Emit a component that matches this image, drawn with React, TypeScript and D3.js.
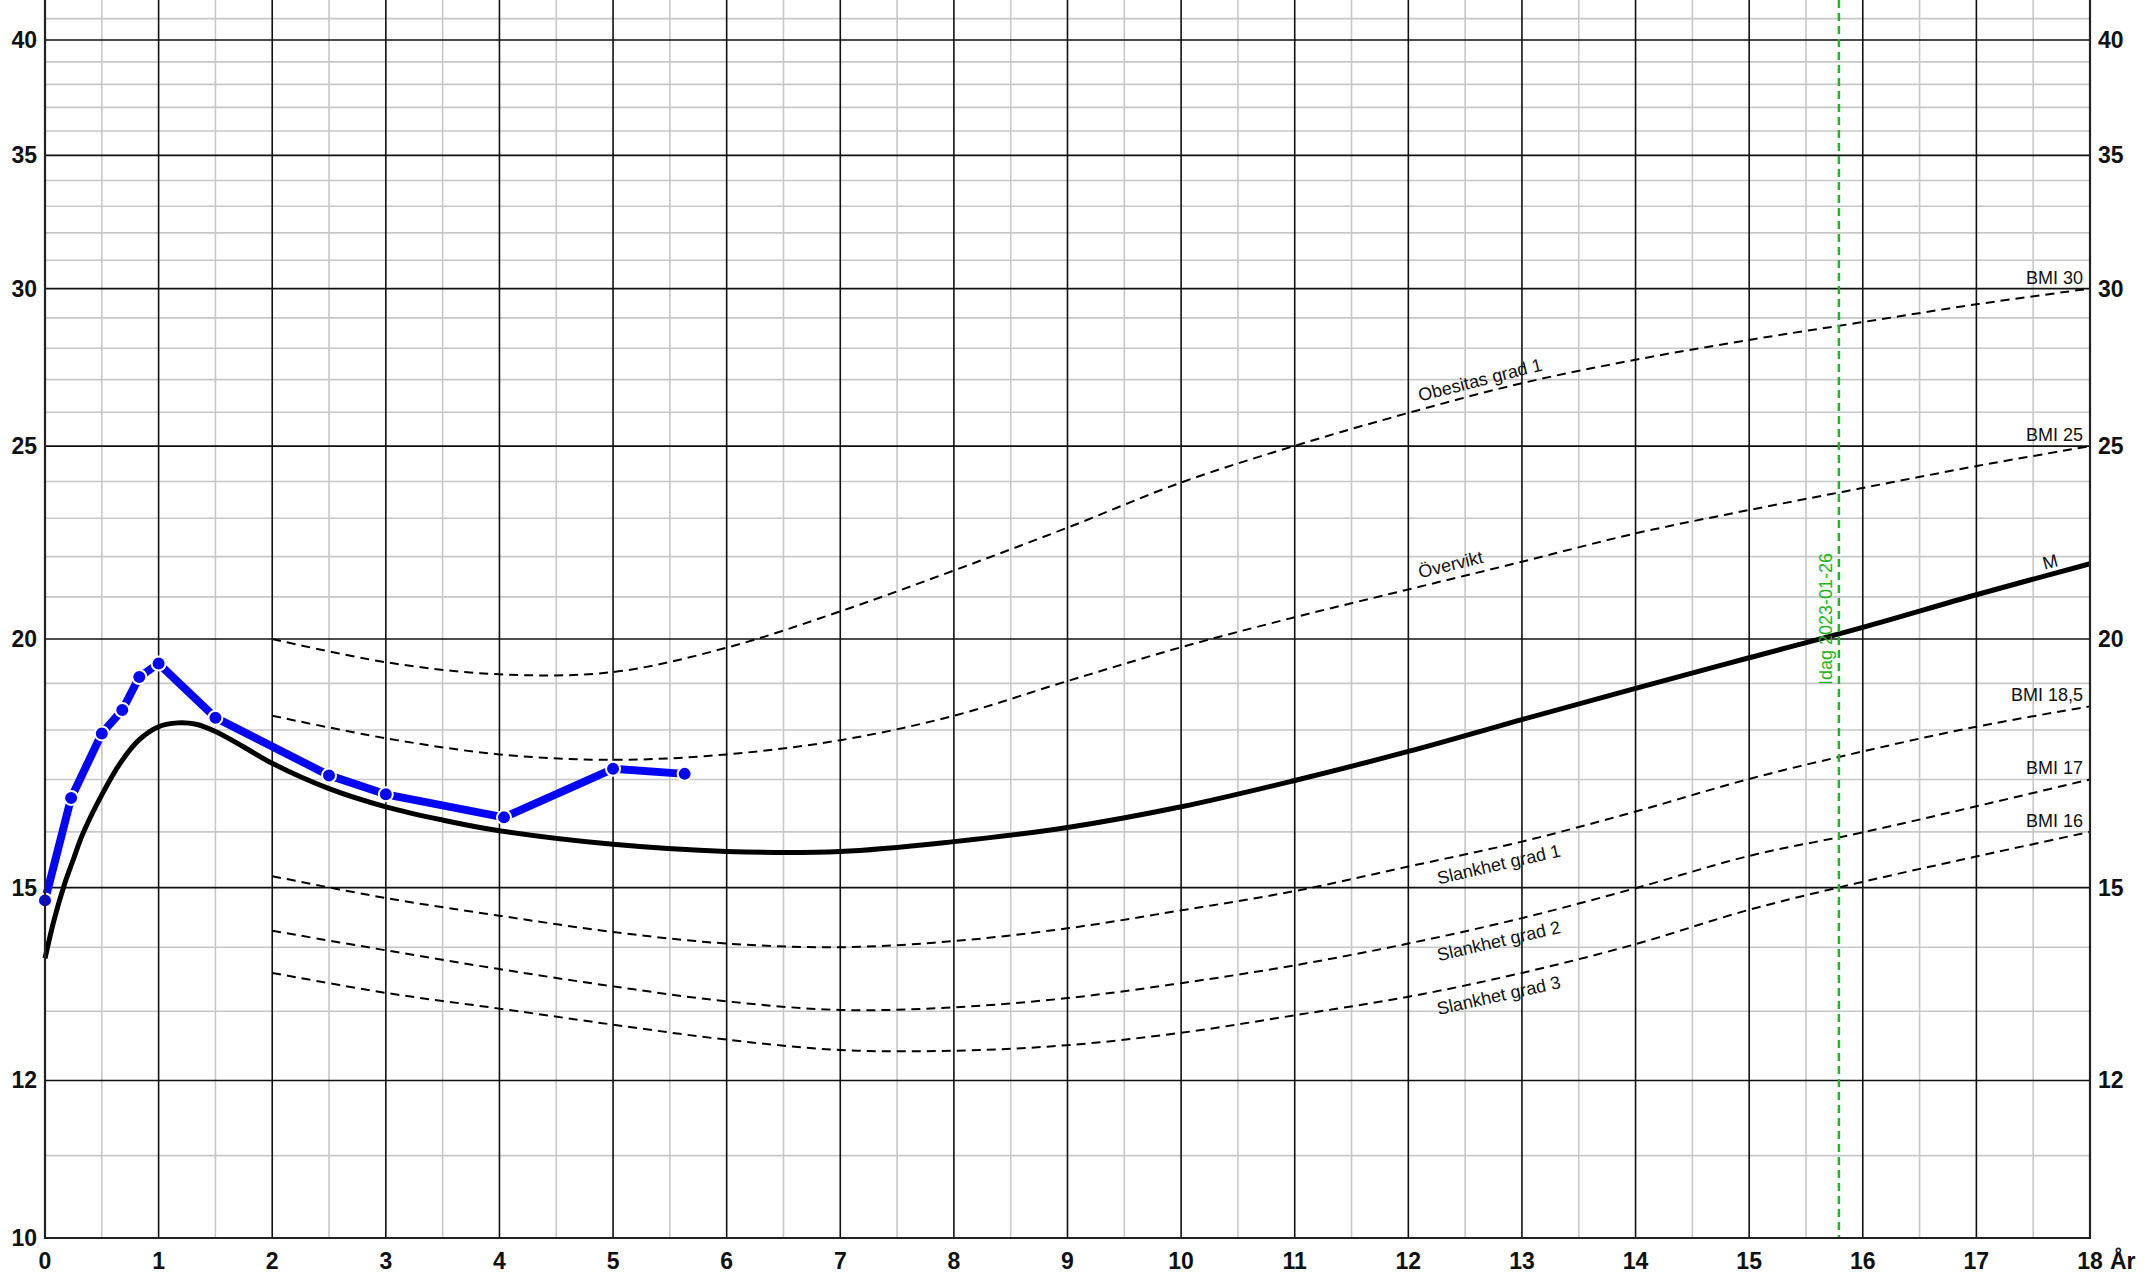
import * as d3 from "d3";

// BMI chart, age 0-18 years, log-scaled BMI axis
const yearTicks = d3.range(0, 19);
const bmiTicks = [10, 12, 15, 20, 25, 30, 35, 40];
const bmiMinor = [11, 13, 14, 16, 17, 18, 19, 21, 22, 23, 24, 26, 27, 28, 29, 31, 32, 33, 34, 36, 37, 38, 39, 41];

// median curve (M)
const medianAges = [0, 0.08, 0.17, 0.25, 0.33, 0.5, 0.67, 0.83, 1, 1.17, 1.33, 1.5, 1.75, 2, 2.5, 3, 3.5, 4, 5, 6, 7, 8, 9, 10, 11, 12, 13, 14, 15, 16, 17, 18];
const medianBmi = [13.82, 14.45, 15.05, 15.5, 15.95, 16.7, 17.35, 17.8, 18.07, 18.15, 18.12, 17.97, 17.65, 17.32, 16.82, 16.47, 16.22, 16.02, 15.77, 15.64, 15.64, 15.82, 16.08, 16.47, 16.98, 17.56, 18.22, 18.89, 19.57, 20.27, 21.05, 21.82];

// cut-off curves from age 2
const cutAges = [2, 3, 4, 5, 6, 7, 8, 9, 10, 11, 12, 13, 14, 15, 16, 17, 18];
const bmi30 = [20.0, 19.47, 19.2, 19.25, 19.8, 20.65, 21.65, 22.75, 23.97, 25.01, 25.98, 26.89, 27.63, 28.27, 28.86, 29.46, 30.0];
const bmi25 = [18.3, 17.83, 17.5, 17.39, 17.5, 17.79, 18.3, 19.05, 19.81, 20.51, 21.18, 21.87, 22.6, 23.22, 23.82, 24.43, 25.0];
const bmi185 = [15.2, 14.82, 14.52, 14.25, 14.06, 14.0, 14.1, 14.31, 14.61, 14.94, 15.37, 15.82, 16.38, 17.01, 17.56, 18.07, 18.5];
const bmi17 = [14.27, 13.95, 13.65, 13.38, 13.15, 13.02, 13.06, 13.2, 13.43, 13.71, 14.06, 14.48, 14.99, 15.56, 15.99, 16.48, 17.0];
const bmi16 = [13.59, 13.28, 13.04, 12.8, 12.58, 12.43, 12.42, 12.5, 12.68, 12.94, 13.22, 13.59, 14.05, 14.62, 15.1, 15.55, 16.0];

const cutNames = ["BMI 30", "BMI 25", "BMI 18,5", "BMI 17", "BMI 16"];
const cutLabels = ["Obesitas grad 1", "Övervikt", "Slankhet grad 1", "Slankhet grad 2", "Slankhet grad 3"];

// measurements
const childAges = [0, 0.23, 0.5, 0.68, 0.83, 1, 1.5, 2.5, 3, 4.04, 5, 5.63];
const childBmi = [14.78, 16.64, 17.93, 18.42, 19.14, 19.44, 18.26, 17.08, 16.71, 16.27, 17.21, 17.11];

const todayAge = 15.79;
const todayText = "Idag 2023-01-26";

const font = "'Liberation Sans', Arial, sans-serif";

export default function App() {
  const width = 2151;
  const height = 1274;
  const left = 45;
  const right = 2090;
  const bottom = 1238;

  const x = d3.scaleLinear([0, 18], [left, right]);
  const y = d3.scaleLog([10, 40], [bottom, 40]);

  const smooth = d3
    .line<[number, number]>()
    .x((d) => x(d[0]))
    .y((d) => y(d[1]))
    .curve(d3.curveCatmullRom.alpha(0.5));
  const straight = d3
    .line<[number, number]>()
    .x((d) => x(d[0]))
    .y((d) => y(d[1]));

  const cuts = [bmi30, bmi25, bmi185, bmi17, bmi16];

  // position + angle of a label sitting along a curve
  const along = (ages: number[], vals: number[], a: number) => {
    const f = d3.scaleLinear(ages, vals);
    const x0 = x(a), y0 = y(f(a));
    const x1 = x(a + 1), y1 = y(f(a + 1));
    return { x0, y0, angle: (Math.atan2(y1 - y0, x1 - x0) * 180) / Math.PI };
  };

  return (
    <>
      <style>{`body{margin:0}`}</style>
      <svg width={width} height={height} style={{ display: "block", background: "#fff" }}>
        {/* minor grid */}
        <g stroke="#c8c8c8" strokeWidth={1.6}>
          {d3.range(0.5, 18, 1).map((a) => (
            <line key={"vx" + a} x1={x(a)} x2={x(a)} y1={0} y2={bottom} />
          ))}
          {bmiMinor.map((v) => (
            <line key={"hy" + v} x1={left} x2={right} y1={y(v)} y2={y(v)} />
          ))}
        </g>
        {/* major grid */}
        <g stroke="#111" strokeWidth={1.6}>
          {yearTicks.slice(1, -1).map((a) => (
            <line key={"VX" + a} x1={x(a)} x2={x(a)} y1={0} y2={bottom} />
          ))}
          {bmiTicks.slice(1).map((v) => (
            <line key={"HY" + v} x1={left} x2={right} y1={y(v)} y2={y(v)} />
          ))}
        </g>

        {/* cut-off curves */}
        <g fill="none" stroke="#000" strokeWidth={2} strokeDasharray="9,6">
          {cuts.map((vals, i) => (
            <path key={i} d={smooth(cutAges.map((a, j) => [a, vals[j]]))!} />
          ))}
        </g>

        {/* cut-off names at right end */}
        <g fontFamily={font} fontSize={18} fill="#111" textAnchor="end">
          {cuts.map((vals, i) => (
            <text key={i} x={right - 7} y={y(vals[vals.length - 1]) - 5}>
              {cutNames[i]}
            </text>
          ))}
        </g>

        {/* labels along curves */}
        <g fontFamily={font} fontSize={18} fill="#111">
          {cuts.map((vals, i) => {
            const above = i < 2;
            const p = along(cutAges, vals, above ? 12.12 : 12.22);
            return (
              <text
                key={i}
                transform={`translate(${p.x0},${p.y0}) rotate(${p.angle})`}
                y={above ? -8 : 24}
              >
                {cutLabels[i]}
              </text>
            );
          })}
          {(() => {
            const p = along(medianAges, medianBmi, 17.74);
            return (
              <text
                transform={`translate(${p.x0},${p.y0}) rotate(${p.angle})`}
                y={-6}
                textAnchor="end"
              >
                M
              </text>
            );
          })()}
        </g>

        {/* median */}
        <path
          d={smooth(medianAges.map((a, j) => [a, medianBmi[j]]))!}
          fill="none"
          stroke="#000"
          strokeWidth={5}
        />

        {/* today */}
        <line
          x1={x(todayAge)}
          x2={x(todayAge)}
          y1={0}
          y2={bottom}
          stroke="#22b422"
          strokeWidth={2.5}
          strokeDasharray="8,5"
        />
        <text
          transform={`translate(${x(todayAge) - 7},685) rotate(-90)`}
          fontFamily={font}
          fontSize={18}
          fill="#22b422"
        >
          {todayText}
        </text>

        {/* measurements */}
        <path
          d={straight(childAges.map((a, j) => [a, childBmi[j]]))!}
          fill="none"
          stroke="#0505f5"
          strokeWidth={8}
          strokeLinejoin="round"
        />
        <g fill="#0505f5" stroke="#fff" strokeWidth={2}>
          {childAges.map((a, j) => (
            <circle key={j} cx={x(a)} cy={y(childBmi[j])} r={7} />
          ))}
        </g>

        {/* frame */}
        <path
          d={`M${left},0V${bottom}H${right}V0`}
          fill="none"
          stroke="#222"
          strokeWidth={2.2}
        />

        {/* axis labels */}
        <g fontFamily={font} fontSize={23} fontWeight="bold" fill="#111">
          {bmiTicks.map((v) => (
            <text key={"l" + v} x={37} y={y(v)} textAnchor="end" dominantBaseline="central">
              {v}
            </text>
          ))}
          {bmiTicks.slice(1).map((v) => (
            <text key={"r" + v} x={2098} y={y(v)} dominantBaseline="central">
              {v}
            </text>
          ))}
          {yearTicks.map((a) => (
            <text key={"x" + a} x={x(a)} y={1269} textAnchor="middle">
              {a}
            </text>
          ))}
          <text x={x(18) + 20} y={1269}>
            År
          </text>
        </g>
      </svg>
    </>
  );
}
